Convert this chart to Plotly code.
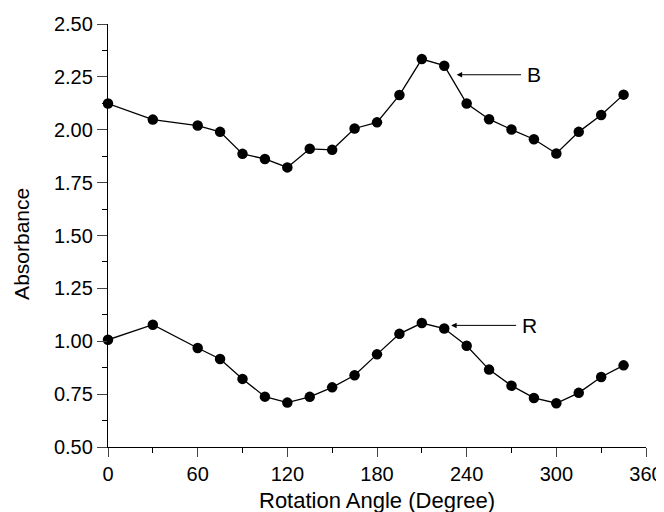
import plotly.graph_objects as go

angles = [0, 30, 60, 75, 90, 105, 120, 135, 150, 165, 180, 195, 210, 225,
          240, 255, 270, 285, 300, 315, 330, 345]
b_values = [2.124, 2.048, 2.020, 1.990, 1.886, 1.862, 1.822, 1.910, 1.905, 2.006, 2.035,
            2.164, 2.334, 2.303, 2.124, 2.050, 2.001, 1.955, 1.888, 1.990, 2.070, 2.166]
r_values = [1.007, 1.078, 0.968, 0.916, 0.822, 0.738, 0.710, 0.737, 0.782, 0.839, 0.938,
            1.035, 1.086, 1.060, 0.979, 0.866, 0.790, 0.732, 0.707, 0.756, 0.831, 0.886]

x_ticks = [0, 60, 120, 180, 240, 300, 360]
y_ticks = [0.50, 0.75, 1.00, 1.25, 1.50, 1.75, 2.00, 2.25, 2.50]

x_title = "Rotation Angle (Degree)"
y_title = "Absorbance"

# annotation anchors: (label, arrow tip x, arrow tip y, tail x)
labels = [("B", 233.3, 2.26, 277.4), ("R", 229.6, 1.075, 274.1)]

FONT = "Liberation Sans, Arial, sans-serif"

fig = go.Figure()
for vals in (b_values, r_values):
    fig.add_trace(go.Scatter(
        x=angles, y=vals, mode="lines+markers",
        line=dict(color="black", width=1.3),
        marker=dict(color="black", size=10.5),
        cliponaxis=False, showlegend=False))

for name, tx, ty, tail in labels:
    fig.add_annotation(x=tx, y=ty, ax=tail, ay=ty, xref="x", yref="y",
                       axref="x", ayref="y", text="", showarrow=True,
                       arrowhead=2, arrowsize=1.1, arrowwidth=1, arrowcolor="black")
    fig.add_annotation(x=tail, y=ty, xref="x", yref="y", text=name,
                       showarrow=False, xanchor="left", xshift=2,
                       font=dict(family=FONT, size=21, color="black"))

fig.add_annotation(x=0.5, y=-0.126, xref="paper", yref="paper", text=x_title,
                   showarrow=False, xanchor="center", yanchor="middle",
                   font=dict(family=FONT, size=22, color="black"))
fig.add_annotation(x=-0.16, y=0.48, xref="paper", yref="paper", text=y_title,
                   showarrow=False, xanchor="center", yanchor="middle", textangle=-90,
                   font=dict(family=FONT, size=21, color="black"))

# page body has an 8px margin: the figure is offset by (8, 8) in the window
fig.update_layout(
    width=656, height=504,
    margin=dict(l=100, r=18, t=15.5, b=64.5, autoexpand=False),
    plot_bgcolor="white", paper_bgcolor="white",
    font=dict(family=FONT, size=20, color="black"),
)
fig.update_xaxes(
    range=[0, 360], tickvals=x_ticks, ticks="outside", ticklen=9, tickwidth=1.2,
    showline=True, linecolor="black", linewidth=1.3, showgrid=False, zeroline=False,
    automargin=False,
    minor=dict(dtick=30, tick0=0, ticks="outside", ticklen=5, tickcolor="black",
               tickwidth=1.2, showgrid=False),
)
fig.update_yaxes(
    range=[0.5, 2.5], tickvals=y_ticks, tickformat=".2f", ticks="outside", ticklen=10,
    tickwidth=1.2, showline=True, linecolor="black", linewidth=1.3, showgrid=False,
    zeroline=False, automargin=False,
    minor=dict(dtick=0.125, tick0=0.5, ticks="outside", ticklen=5, tickcolor="black",
               tickwidth=1.2, showgrid=False),
)

fig.write_html("out.html")
